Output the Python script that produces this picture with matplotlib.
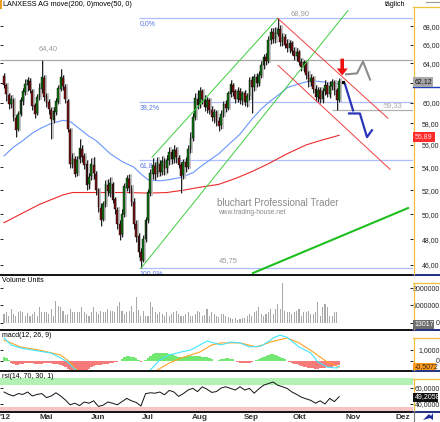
import numpy as np
import matplotlib
matplotlib.use('Agg')
import matplotlib.pyplot as plt
from matplotlib import font_manager as fm
from matplotlib.lines import Line2D
from matplotlib.patches import Polygon
from matplotlib.ticker import FixedLocator, NullLocator, FuncFormatter

names = {f.name for f in fm.fontManager.ttflist}
NARROW = 'Liberation Sans Narrow' in names
if NARROW:
    plt.rcParams['font.family'] = ['Liberation Sans Narrow', 'DejaVu Sans']
    FS = 5.8
else:
    plt.rcParams['font.family'] = ['Liberation Sans', 'DejaVu Sans']
    FS = 5.0

# ---- LANXESS AG, daily candles ----
open_ = [62.7, 61.8, 60.8, 59.9, 60.3, 58.5, 57.5, 58.9, 60.2, 61.1,
         61.8, 62.2, 61.2, 59.8, 59.0, 60.6, 61.4, 62.5, 60.7, 60.1,
         59.3, 58.3, 59.1, 60.1, 61.4, 62.5, 61.6, 60.2, 57.4, 54.3,
         54.7, 53.5, 54.7, 55.6, 55.0, 54.3, 52.5, 53.2, 54.2, 53.4,
         52.0, 50.5, 49.6, 50.8, 52.4, 51.8, 52.5, 51.2, 50.3, 49.2,
         48.4, 50.0, 52.2, 52.9, 52.1, 51.0, 49.2, 48.2, 47.0, 46.4,
         48.0, 49.5, 51.8, 53.4, 54.1, 53.4, 54.3, 53.6, 54.5, 53.9,
         54.6, 55.3, 54.7, 55.5, 54.8, 54.2, 53.3, 54.4, 54.0, 55.6,
         56.6, 58.6, 60.4, 59.8, 61.1, 60.4, 59.6, 60.3, 59.3, 58.6,
         59.1, 58.2, 57.9, 58.9, 59.9, 59.5, 60.9, 61.8, 61.1, 60.4,
         61.2, 60.3, 60.9, 60.1, 60.7, 62.3, 61.6, 62.6, 62.0, 62.8,
         63.8, 64.6, 64.2, 66.5, 67.3, 66.6, 67.2, 67.7, 66.3, 66.8,
         66.0, 65.6, 66.2, 65.3, 64.8, 65.2, 64.1, 63.6, 64.1, 62.8,
         62.1, 62.5, 61.4, 60.6, 61.3, 60.4, 61.2, 61.8, 60.9, 61.7,
         62.1, 61.3, 60.3]
high = [63.0, 62.0, 61.0, 60.8, 60.5, 58.8, 59.2, 60.6, 61.5, 62.4,
        62.6, 62.5, 61.4, 60.0, 60.9, 62.0, 64.4, 62.8, 61.0, 60.4,
        59.6, 59.6, 60.5, 61.8, 63.4, 62.8, 61.9, 60.4, 57.6, 55.3,
        55.0, 55.0, 56.5, 56.0, 55.3, 54.6, 53.5, 54.8, 54.9, 53.7,
        52.2, 50.9, 51.1, 52.9, 53.0, 53.1, 52.7, 51.4, 50.6, 49.5,
        50.4, 52.6, 53.3, 53.4, 52.4, 51.3, 49.5, 48.5, 47.3, 48.3,
        49.8, 52.1, 53.8, 54.8, 54.5, 54.9, 54.6, 55.0, 54.8, 55.1,
        55.8, 55.6, 56.0, 55.8, 55.1, 54.5, 54.7, 54.9, 56.0, 57.2,
        59.0, 61.0, 61.3, 61.6, 61.4, 60.8, 60.6, 60.5, 59.7, 59.4,
        59.3, 58.6, 59.3, 60.2, 60.3, 61.2, 62.3, 62.0, 61.4, 61.6,
        61.5, 61.2, 61.3, 61.0, 62.6, 62.7, 62.9, 63.0, 63.2, 64.2,
        65.0, 65.1, 66.9, 67.8, 67.8, 67.9, 68.9, 68.2, 67.3, 67.1,
        66.6, 66.5, 66.4, 65.7, 65.6, 65.4, 64.6, 64.4, 64.3, 63.2,
        62.9, 62.7, 61.8, 61.6, 61.6, 61.5, 62.3, 62.1, 62.2, 62.4,
        62.3, 61.5, 62.5]
low = [61.5, 60.2, 59.4, 59.5, 58.2, 56.7, 57.3, 58.7, 59.8, 60.8,
       61.2, 61.0, 59.3, 58.5, 58.8, 60.3, 61.0, 60.2, 59.6, 58.9,
       56.5, 58.0, 58.8, 59.9, 61.2, 61.3, 60.0, 57.2, 53.9, 53.9,
       53.1, 53.2, 54.4, 54.5, 53.8, 52.0, 52.1, 52.9, 53.0, 51.6,
       50.2, 49.0, 49.4, 50.6, 51.5, 51.4, 50.9, 50.0, 48.8, 47.9,
       48.2, 49.8, 51.9, 51.8, 50.7, 48.8, 47.8, 46.6, 45.75, 46.2,
       47.8, 49.3, 51.5, 53.0, 52.9, 53.1, 53.2, 53.3, 53.3, 53.5,
       54.2, 54.3, 54.4, 54.4, 53.9, 51.8, 53.0, 53.6, 53.8, 55.3,
       56.4, 58.3, 59.4, 59.5, 59.9, 59.2, 59.0, 58.9, 58.2, 58.0,
       57.8, 57.3, 57.5, 58.6, 59.1, 59.3, 60.6, 60.7, 60.0, 60.1,
       59.9, 59.8, 59.7, 59.6, 60.3, 59.0, 61.2, 61.6, 61.7, 62.5,
       63.4, 63.8, 64.0, 66.1, 66.2, 66.2, 66.9, 65.8, 65.9, 65.6,
       65.2, 65.1, 64.9, 64.4, 64.3, 63.8, 63.2, 63.1, 62.4, 61.6,
       61.7, 61.0, 60.2, 60.1, 60.0, 60.0, 60.8, 60.6, 60.5, 61.3,
       60.8, 59.33, 60.1]
close = [61.8, 60.9, 59.9, 60.4, 58.6, 57.4, 58.9, 60.3, 61.2, 61.9,
         62.3, 61.3, 59.7, 58.9, 60.6, 61.5, 62.6, 60.6, 60.0, 59.4,
         58.4, 59.2, 60.2, 61.5, 62.6, 61.7, 60.4, 57.5, 54.3, 54.8,
         53.4, 54.6, 55.7, 54.9, 54.2, 52.4, 53.1, 54.3, 53.5, 52.0,
         50.6, 49.5, 50.8, 52.5, 51.9, 52.6, 51.2, 50.4, 49.2, 48.3,
         50.0, 52.3, 53.0, 52.2, 51.0, 49.2, 48.2, 47.0, 46.3, 48.0,
         49.5, 51.8, 53.5, 54.2, 53.4, 54.4, 53.6, 54.5, 53.9, 54.6,
         55.3, 54.7, 55.5, 54.9, 54.2, 53.2, 54.4, 54.0, 55.6, 56.6,
         58.6, 60.5, 59.8, 61.2, 60.4, 59.6, 60.3, 59.3, 58.6, 59.1,
         58.2, 57.8, 58.9, 59.9, 59.5, 60.9, 61.9, 61.1, 60.4, 61.2,
         60.3, 60.9, 60.1, 60.7, 62.3, 61.6, 62.6, 62.0, 62.8, 63.8,
         64.6, 64.2, 66.5, 67.4, 66.6, 67.2, 67.7, 66.3, 66.8, 66.0,
         65.6, 66.2, 65.3, 64.8, 65.2, 64.1, 63.6, 64.1, 62.8, 62.1,
         62.5, 61.4, 60.6, 61.3, 60.4, 61.2, 61.8, 60.9, 61.7, 62.1,
         61.3, 60.3, 62.12]

# volume in thousand shares
volume_k = [514, 610, 419, 800, 514, 419, 610, 700, 610, 419, 560,
            419, 514, 610, 419, 895, 610, 610, 610, 514, 800,
            419, 1240, 990, 895, 700, 480, 514, 800, 610, 610, 610,
            610, 895, 610, 514, 419, 610, 895, 610, 514, 700, 650,
            610, 800, 700, 700, 610, 990, 1180, 700, 514, 610,
            700, 990, 610, 1470, 720, 419, 700, 419, 419, 1180, 895,
            610, 514, 610, 514, 419, 610, 419, 514, 610, 700, 530,
            419, 419, 514, 610, 419, 419, 514, 700, 610, 419, 460,
            800, 419, 610, 514, 419, 320,
            514, 514, 419, 320, 263, 228, 263, 190, 228, 300, 263,
            419, 514, 419, 610, 700, 895, 514, 419, 514, 610,
            800, 514, 800, 1090, 800, 2290, 700, 610, 610, 514, 650,
            700, 800, 419, 610, 610, 700, 514, 514, 610, 1180,
            419, 895, 1090, 895, 419, 419, 610, 610, 13.017]

macd_hist = [0.3, 0.25, 0.05, -0.2, -0.35, -0.4, -0.4, -0.35, -0.3, -0.25,
             -0.2, -0.2, -0.25, -0.3, -0.35, -0.35, -0.3, -0.25, -0.2, -0.2,
             -0.25, -0.3, -0.3, -0.35, -0.4, -0.5, -0.6, -0.75, -0.9, -1.0,
             -1.0, -1.0, -1.0, -1.0, -0.95, -0.9, -0.75, -0.6, -0.5, -0.45,
             -0.4, -0.4, -0.35, -0.3, -0.3, -0.25, -0.2, -0.15, -0.1, -0.05,
             0.1, 0.3, 0.4, 0.4, 0.35, 0.3, 0.2, 0.05, -0.1, -0.05,
             0.05, 0.25, 0.4, 0.55, 0.65, 0.7, 0.7, 0.7, 0.7, 0.65,
             0.6, 0.55, 0.5, 0.4, 0.35, 0.3, 0.35, 0.4, 0.4, 0.4,
             0.45, 0.4, 0.4, 0.4, 0.35, 0.35, 0.3, 0.2, 0.1, 0.0,
             -0.05, 0.05, 0.1, 0.15, 0.2, 0.2, 0.15, 0.1, 0.0, -0.1,
             -0.2, -0.25, -0.25, -0.25, -0.2, -0.15, -0.05, 0.05, 0.15, 0.25,
             0.35, 0.45, 0.5, 0.55, 0.55, 0.5, 0.45, 0.35, 0.25, 0.1,
             0.0, -0.1, -0.2, -0.3, -0.35, -0.45, -0.5, -0.55, -0.6, -0.65,
             -0.7, -0.7, -0.75, -0.75, -0.7, -0.7, -0.65, -0.6, -0.6, -0.55,
             -0.5, -0.45, -0.4]
macd_idx = [0, 3, 7, 12, 20, 24, 27, 29, 33, 40, 48, 55, 60, 62, 66, 70, 75, 79,
            83, 86, 92, 96, 100, 104, 109, 113, 114, 117, 120, 125, 130, 133,
            137, 141, 142]
macd_line = [2.05, 1.41, 1.14, 0.95, 0.68, 0.23, -0.14, -0.6, -1.3, -2.0, -2.0,
             -1.6, -1.2, -0.86, 0.05, 0.5, 0.77, 0.95, 1.41, 1.77, 1.41, 1.68,
             1.6, 1.23, 1.32, 1.86, 2.05, 2.3, 2.1, 1.23, 0.68, -0.14, -0.6,
             -0.68, -0.51]
signal_idx = [0, 7, 15, 24, 28, 30, 35, 45, 55, 65, 70, 75, 83, 88, 92, 100,
              107, 113, 120, 125, 131, 137, 142]
signal_line = [1.86, 1.23, 0.95, 0.5, -0.14, -0.7, -1.3, -1.9, -1.7, -0.86,
               -0.23, 0.23, 0.77, 1.41, 1.6, 1.6, 1.23, 1.68, 2.05, 1.6, 0.77,
               -0.14, -0.6]

ma50_idx = [0, 4, 8, 12, 16, 20, 25, 28, 32, 36, 39, 42, 45, 50, 55, 58, 61,
            66, 70, 75, 80, 83, 87, 91, 96, 100, 105, 109, 113, 117, 120, 125,
            130, 135, 140, 142]
ma50 = [55.0, 55.8, 56.4, 57.1, 57.6, 58.0, 58.3, 58.2, 57.5, 56.8, 56.4,
        55.8, 55.2, 54.5, 54.0, 53.4, 52.9, 52.8, 52.9, 53.1, 53.5, 54.0,
        54.6, 55.2, 56.2, 57.0, 58.4, 59.4, 60.2, 60.9, 61.5, 61.9, 62.2,
        62.1, 61.9, 61.9]
ma200_idx = [0, 5, 10, 15, 20, 25, 29, 41, 53, 61, 69, 76, 83, 91, 98, 105,
             112, 120, 128, 134, 142]
ma200 = [49.3, 49.8, 50.3, 50.8, 51.2, 51.6, 51.8, 51.8, 51.8, 51.75, 51.8,
         52.0, 52.25, 52.5, 53.0, 53.6, 54.3, 55.2, 56.0, 56.4, 56.89]

rsi_idx = list(range(0, 143, 2))
rsi = [55, 52, 50, 53, 52, 55, 50, 52, 53, 48, 50, 54, 50, 45, 39, 41, 38,
       42.5, 41, 44, 37, 38.5, 42.5, 41, 39, 43, 47, 44, 42, 37.5, 53, 54,
       53.5, 55, 51.5, 57, 55, 49.5, 53, 57.5, 59.5, 55.5, 61.5, 58.5, 54.5,
       55.5, 60, 61.5, 59.5, 57.5, 61.5, 57.5, 59.5, 53.5, 59, 63.5, 65.5,
       67.5, 63.5, 61.5, 59.5, 55, 52, 48.5, 46.5, 44.5, 41, 44, 40, 47, 43,
       49.2058]

month_idx = [0.5, 18, 40, 61, 83, 105, 125, 148, 169]
month_lbl = ["'12", 'Mai', 'Jun', 'Jul', 'Aug', 'Sep', 'Okt', 'Nov', 'Dez']
price_ticks = [46, 48, 50, 52, 54, 56, 58, 60, 62, 64, 66, 68]

swing_hi, swing_lo = 68.90, 45.75          # fib anchors
fib_ratio = [0.0, 0.382, 0.618, 1.0]
fib_lbl = ['0,0%', '38,2%', '61,8%', '100,0%']
old_high = 64.40
last_low = 59.33

# analyst drawings (candle index, price)
green_a = ([58, 145.8], [45.75, 69.8])
green_b = ([62.7, 116], [54.88, 68.9])
red_a = ([116, 162.7], [68.9, 58.5])
red_b = ([116.1, 163.6], [63.8, 53.8])
green_long = ([105.5, 171.2], [45.4, 50.5])
gray_path = ([144.9, 149.6, 152.1, 155.1], [62.86, 62.96, 64.2, 62.33])
blue_a = ([144.5, 147.9], [61.84, 59.26])
blue_b = ([146.2, 150.8, 153.8, 155.9], [58.96, 58.96, 56.72, 57.36])

W, H = 440, 422
XL = (-1.7, 173.3)
fig = plt.figure(figsize=(W / 100, H / 100), dpi=100)


def panel(top, bottom):
    a = fig.add_axes([0, 1 - bottom / H, 413 / W, (bottom - top) / H])
    a.set_xlim(*XL)
    for s in a.spines.values():
        s.set_visible(False)
    a.yaxis.tick_right()
    a.tick_params(axis='y', direction='in', length=2, width=0.6, pad=19.2,
                  labelsize=FS, labelcolor='#222222', left=True)
    a.tick_params(axis='x', length=0)
    a.set_xticks([])
    return a


def right_labels(a):
    for t in a.get_yticklabels():
        t.set_ha('right')


def fline(x0, x1, y0, y1, color, lw):
    fig.add_artist(Line2D([x0 / W, x1 / W], [1 - y0 / H, 1 - y1 / H],
                          color=color, lw=lw, transform=fig.transFigure))


def fbox(y, txt, fc, tc, w=20, hgt=9):
    fig.patches.append(plt.Rectangle((413 / W, 1 - (y + hgt / 2) / H), w / W, hgt / H,
                                     transform=fig.transFigure, fc=fc, ec='none',
                                     zorder=5))
    fig.text(414.5 / W, 1 - y / H, txt, fontsize=FS, color=tc, va='center',
             ha='left', zorder=6)


def comma(d, skip=()):
    return FuncFormatter(lambda v, p: '' if v in skip else f'{v:.{d}f}'.replace('.', ','))


idx = np.arange(len(close))
o, h, l, c = map(np.array, (open_, high, low, close))

# ---- main price panel ----
ax = panel(0, 274)
ax.set_yscale('log')
ax.set_ylim(45.33, 71.0)
ax.yaxis.set_major_locator(FixedLocator(price_ticks))
ax.yaxis.set_minor_locator(NullLocator())
ax.yaxis.set_major_formatter(comma(2, skip=(62,)))
right_labels(ax)

fib_lv = [swing_hi - r * (swing_hi - swing_lo) for r in fib_ratio]
ax.hlines(fib_lv, 57, XL[1], color='#aebdff', lw=0.9, zorder=1)
for lv, t in zip(fib_lv, fib_lbl):
    ax.annotate(t, (57.4, lv), xytext=(0, -3.8), textcoords='offset points',
                fontsize=FS, color='#5a78e6', va='center', ha='left')
ax.hlines(old_high, *XL, color='#a8a8a8', lw=0.9, zorder=1)
ax.hlines(last_low, 139, XL[1], color='#b0b0b0', lw=0.9, zorder=1)
ax.annotate('64,40', (18.9, old_high), xytext=(0, 7.6), textcoords='offset points',
            fontsize=FS + 0.4, color='#9a9a9a', ha='center', va='center')
ax.annotate('68,90', (125.4, swing_hi), xytext=(0, 3.3), textcoords='offset points',
            fontsize=FS + 0.4, color='#9a9a9a', ha='center', va='center')
ax.annotate('45,75', (95.1, swing_lo), xytext=(0, 5.4), textcoords='offset points',
            fontsize=FS + 0.4, color='#9a9a9a', ha='center', va='center')
ax.annotate('59,33', (165, last_low), xytext=(0, 0.3), textcoords='offset points',
            fontsize=FS + 0.4, color='#a6a6a6', ha='center', va='bottom')

ax.plot(ma200_idx, ma200, color='#ee2a2a', lw=0.8, zorder=2)
ax.plot(ma50_idx, ma50, color='#6a95ff', lw=0.8, zorder=2)

# candles with grey shadow
up = c >= o
ax.vlines(idx + 0.6, l, h, color='#b9b9b9', lw=1.2, zorder=3)
ax.vlines(idx, l, h, color='black', lw=0.6, zorder=4)
ax.bar(idx, np.abs(c - o) + 0.02, bottom=np.minimum(o, c), width=0.75,
       color=np.where(up, '#127512', '#7e1212'), edgecolor='black', lw=0.3, zorder=5)

ax.plot(*green_a, color='#3ccf3c', lw=0.7, zorder=6)
ax.plot(*green_b, color='#3ccf3c', lw=0.7, zorder=6)
ax.plot(*red_a, color='#f04040', lw=0.7, zorder=6)
ax.plot(*red_b, color='#f04040', lw=0.7, zorder=6)
ax.plot(*green_long, color='#1fbf1f', lw=1.5, zorder=6)
ax.plot(*gray_path, color='#8c8c8c', lw=1.5, zorder=6)
ax.plot(*blue_a, color='#2a35b8', lw=1.6, zorder=6)
ax.plot(*blue_b, color='#2a35b8', lw=1.6, zorder=6)
ax.annotate('', xy=(143.3, 62.75), xytext=(143.3, 64.5),
            arrowprops=dict(facecolor='#ee1111', edgecolor='none', width=2.6,
                            headwidth=8, headlength=5, shrink=0), zorder=7)
ax.plot([143.7], [close[-1]], 's', ms=1.4, color='black', zorder=7)

fig.text(3 / W, 1 - 5 / H, 'LANXESS AG move(200, 0)move(50, 0)', fontsize=FS + 0.2,
         va='center', ha='left')
fig.patches.append(plt.Rectangle((0, 1 - 9 / H), 2 / W, 9 / H, transform=fig.transFigure,
                                 fc='#f0a020', ec='none'))
fig.text(217 / W, 1 - 203 / H, 'bluchart Professional Trader', fontsize=7,
         color='#8a8a8a', va='center', ha='left', family=['Liberation Sans', 'DejaVu Sans'])
fig.text(218 / W, 1 - 212 / H, 'www.trading-house.net', fontsize=4.8,
         color='#8a8a8a', va='center', ha='left', family=['Liberation Sans', 'DejaVu Sans'])
fig.text(405 / W, 1 - 4 / H, 'täglich', fontsize=FS, va='center', ha='right')
fline(426, 440, 2, 2, '#999999', 0.8)

# ---- volume ----
axv = panel(275, 329)
axv.bar(idx, np.array(volume_k) * 1000, width=0.45, color='#a9a9a9')
axv.set_ylim(-343000, 2743000)
axv.set_yticks([0, 1000000, 2000000])
axv.set_yticklabels(['0', '1000000', '2000000'])
right_labels(axv)
axv.text(0.005, 0.9, 'Volume Units', transform=axv.transAxes, fontsize=FS,
         va='center', ha='left')

# ---- macd ----
axm = panel(330, 370)
hist = np.array(macd_hist)
axm.bar(idx, hist, width=1.0, color=np.where(hist >= 0, '#72e872', '#f77a7a'))
axm.plot(signal_idx, signal_line, color='#ffa126', lw=0.8)
axm.plot(macd_idx, macd_line, color='#3fe6ff', lw=0.8)
axm.set_ylim(-0.86, 2.77)
axm.set_yticks([0, 1])
axm.set_yticklabels(['0', '1,0000'])
right_labels(axm)
axm.text(0.005, 0.87, 'macd(12, 26, 9)', transform=axm.transAxes, fontsize=FS,
         va='center', ha='left')

# ---- rsi ----
axr = panel(371, 411)
axr.axhspan(63.75, 72.5, color='#b2f2b2', lw=0)
axr.axhspan(31.25, 36.25, color='#f6c4c4', lw=0)
axr.plot(rsi_idx, rsi, color='#111111', lw=0.7)
axr.set_ylim(31.25, 81.25)
axr.set_yticks([40, 60])
axr.set_yticklabels(['40,0000', '60,0000'])
right_labels(axr)
axr.text(0.005, 0.87, 'rsi(14, 70, 30, 1)', transform=axr.transAxes, fontsize=FS,
         va='center', ha='left')
axr.set_xticks(month_idx)
axr.set_xticklabels(month_lbl, fontsize=FS + 0.9, fontweight='bold', color='#333333')
axr.tick_params(axis='x', length=0, pad=2)

# panel frames
for y in (274.5, 329.5, 370.5, 411.5):
    fline(0, 413, y, y, '#111111', 1.4)
    fline(413, 440, y, y, '#203080', 1.4)
for top, bot in ((7, 274), (283, 329), (338, 370), (379, 411)):
    fline(413.5, 413.5, top, bot, '#f2bf3c', 0.9)
    fline(413, 440, top, top, '#f2bf3c', 0.9)
fline(413.5, 413.5, 411, 422, '#777777', 0.8)

# small navigation icon bottom right
icon = [(423, 420), (429, 414), (431, 416), (433, 413), (433, 420), (430, 418)]
fig.patches.append(Polygon([(x / W, 1 - y / H) for x, y in icon], closed=True,
                           transform=fig.transFigure, fc='#1c2c9c', ec='none'))

# value boxes on the right scale
fbox(82, '62,12', '#a8a8a8', '#111111')
fline(413, 440, 87, 87, '#2040c0', 1.0)
fbox(137, '56,89', '#ff2a2a', '#ffe0e0', 22)
fbox(324, '13017', '#6e6e6e', '#ffffff', 21)
fbox(366.5, '-0,5072', '#ff9a1a', '#222222', 23, 7.5)
fbox(397, '49,2058', '#111111', '#ffffff', 25)

fig.savefig('out.png', dpi=100)
